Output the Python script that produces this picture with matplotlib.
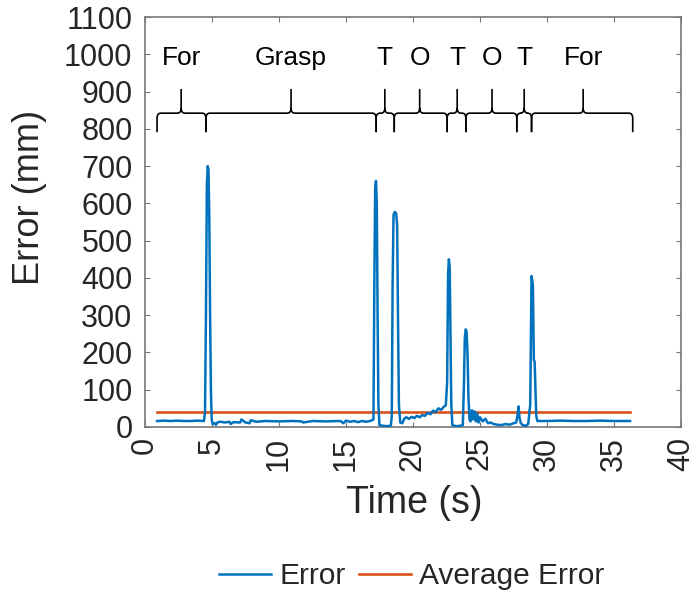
import matplotlib
matplotlib.use("Agg")
import matplotlib.pyplot as plt
from matplotlib.path import Path
from matplotlib.patches import PathPatch

plt.rcParams['font.family'] = ['Liberation Sans', 'DejaVu Sans']

# Tracking error over time (s, mm)
time_s = [0.9, 1.4, 1.9, 2.4, 2.9, 3.4, 3.9, 4.4, 4.48,
          4.55, 4.62, 4.68, 4.74, 4.8, 4.86, 4.92, 4.98, 5.05, 5.2, 5.3, 5.4,
          5.6, 6.0, 6.3, 6.4, 6.6, 7.1, 7.2, 7.5, 7.8, 7.9, 8.3, 9.0, 10.0,
          11.0, 11.7, 11.8, 12.5, 13.5, 14.6, 14.8, 15.0, 15.3, 15.6, 15.9,
          16.2, 16.5, 16.8, 17.05, 17.12, 17.18, 17.24, 17.3, 17.36, 17.42,
          17.5, 17.8, 18.1, 18.35, 18.42, 18.48, 18.55, 18.65, 18.75, 18.82,
          18.88, 18.95, 19.05, 19.2, 19.35, 19.5, 19.7, 19.9, 20.1, 20.3,
          20.5, 20.7, 20.9, 21.1, 21.3, 21.5, 21.7, 21.9, 22.1, 22.3, 22.45,
          22.55, 22.62, 22.68, 22.74, 22.8, 22.86, 22.94, 23.2, 23.5, 23.72,
          23.8, 23.87, 23.94, 24.0, 24.07, 24.14, 24.22, 24.3, 24.4, 24.5,
          24.6, 24.7, 24.8, 24.9, 25.0, 25.2, 25.4, 25.6, 25.8, 26.0, 26.3,
          26.6, 26.9, 27.2, 27.5, 27.7, 27.8, 27.88, 27.95, 28.05, 28.2,
          28.4, 28.6, 28.75, 28.85, 28.95, 29.02, 29.08, 29.14, 29.2,
          29.28, 29.36, 30.0, 31.0, 32.0, 33.0, 34.0, 35.0, 36.2]
error_mm = [16, 17, 16, 17, 16, 16, 17, 16, 40,
            300, 650, 700, 690, 560, 300, 100, 20, 8, 10, 6, 12,
            14, 12, 14, 8, 13, 12, 20, 12, 10, 18, 14, 16, 15,
            16, 15, 12, 16, 15, 16, 10, 17, 14, 16, 13,
            16, 14, 16, 20, 400, 640, 660, 600, 300, 60,
            5, 3, 2, 4, 30, 380, 570, 577, 572, 540,
            300, 60, 12, 10, 22, 26, 22, 27, 24, 30,
            26, 32, 30, 38, 34, 44, 40, 50, 46, 54, 58,
            120, 410, 450, 430, 250, 60, 5, 2, 3, 5,
            110, 240, 262, 255, 200, 80, 20, 15, 45, 20,
            42, 15, 36, 12, 26, 15, 22, 10, 12, 8, 6,
            5, 8, 6, 10, 12, 30, 55, 25, 10, 5,
            3, 8, 60, 405, 380, 180, 175, 100, 30,
            16, 16, 16, 17, 16, 16, 17, 16, 16]

# Mean error over the whole run
avg_error = 40
avg_span = [0.9, 36.2]

# Task phases shown as braces above the trace
phase_bounds = [0.9, 4.55, 17.25, 18.6, 22.55, 23.95, 27.75, 28.85, 36.4]
phase_tips = [2.7, 10.9, 17.9, 20.5, 23.3, 25.9, 28.3, 32.7]
phase_labels = ['For', 'Grasp', 'T', 'O', 'T', 'O', 'T', 'For']

x_ticks = [0, 5, 10, 15, 20, 25, 30, 35, 40]
y_ticks = [0, 100, 200, 300, 400, 500, 600, 700, 800, 900, 1000, 1100]

BLUE = '#0072BD'
ORANGE = '#D95319'
TXT = '#262626'

fig = plt.figure(figsize=(6.97, 5.95), dpi=100)
ax = fig.add_axes([0.208, 0.2824, 0.769, 0.689])

ax.plot(time_s, error_mm, color=BLUE, lw=1.8, label='Error', zorder=3)
ax.plot(avg_span, [avg_error, avg_error], color=ORANGE, lw=1.9,
        label='Average Error', zorder=2)


def brace(ax, x0, x1, xm, y_mid=842, y_end=791, y_top=907, rx=0.28, ry=14):
    verts = [(x0, y_end), (x0, y_mid - ry),
             (x0, y_mid), (x0 + rx, y_mid),
             (xm - rx, y_mid),
             (xm, y_mid), (xm, y_mid + ry),
             (xm, y_top),
             (xm, y_mid + ry),
             (xm, y_mid), (xm + rx, y_mid),
             (x1 - rx, y_mid),
             (x1, y_mid), (x1, y_mid - ry),
             (x1, y_end)]
    codes = [Path.MOVETO, Path.LINETO,
             Path.CURVE3, Path.CURVE3,
             Path.LINETO,
             Path.CURVE3, Path.CURVE3,
             Path.LINETO,
             Path.MOVETO,
             Path.CURVE3, Path.CURVE3,
             Path.LINETO,
             Path.CURVE3, Path.CURVE3,
             Path.LINETO]
    ax.add_patch(PathPatch(Path(verts, codes), fill=False, edgecolor='black',
                           lw=1.2, capstyle='butt', joinstyle='miter'))


for i, lab in enumerate(phase_labels):
    brace(ax, phase_bounds[i], phase_bounds[i + 1], phase_tips[i])
    ax.text(phase_tips[i], 990, lab, ha='center', va='center',
            fontsize=19, color='black')

ax.set_xlim(0, 40)
ax.set_ylim(0, 1100)
ax.set_xticks(x_ticks)
ax.set_yticks(y_ticks)
ax.set_xticklabels([str(v) for v in x_ticks], rotation=90)
ax.tick_params(direction='in', length=3.5, width=0.8, colors='#777777',
               labelcolor=TXT, labelsize=22, top=True, right=True)
ax.tick_params(axis='y', pad=9)
ax.tick_params(axis='x', pad=7)
for sp in ax.spines.values():
    sp.set_color('#777777')
    sp.set_linewidth(1.2)

ax.set_xlabel('Time (s)', fontsize=27, color=TXT)
ax.set_ylabel('Error (mm)', fontsize=26, color=TXT)
ax.xaxis.set_label_coords(0.503, -0.141)
ax.yaxis.set_label_coords(-0.183, 0.56)

fig.legend(loc='center', bbox_to_anchor=(0.591, 0.032), ncol=2,
           frameon=False, fontsize=21.5, handlelength=1.75,
           handletextpad=0.27, columnspacing=0.45, labelcolor=TXT)

fig.savefig('out.png', dpi=100)
